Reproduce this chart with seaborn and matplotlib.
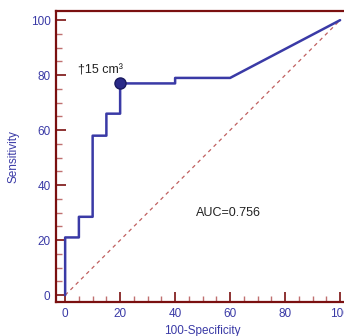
import matplotlib
matplotlib.use("Agg")
import matplotlib.pyplot as plt
from matplotlib.ticker import MultipleLocator
import seaborn as sns

# ROC curve (step points)
fpr = [0, 0, 5, 5, 10, 10, 15, 15, 20, 20, 40, 40, 60, 100]
tpr = [0, 21, 21, 28.5, 28.5, 58, 58, 66, 66, 77, 77, 79, 79, 100]
cut_x, cut_y = 20, 77
cut_label = "\u202015 cm\u00b3"
auc_text = "AUC=0.756"

sns.set_style("white")
plt.rcParams["font.family"] = ["Liberation Sans", "DejaVu Sans"]

blue = "#3a3aa6"
spine_red = "#7a1010"

fig = plt.figure(figsize=(3.44, 3.36), dpi=100)
ax = fig.add_axes([0.163, 0.101, 0.852, 0.866])

ax.plot([0, 100], [0, 100], color="#c06060", lw=0.9, ls=(0, (3, 3)))
sns.lineplot(x=fpr, y=tpr, sort=False, estimator=None, color=blue, lw=1.8, ax=ax)
ax.plot([cut_x], [cut_y], "o", ms=8, color="#2a2a88", mec="#1a1a60", zorder=5)

ax.text(cut_x - 15.5, cut_y + 2.5, cut_label, fontsize=9, color="#222222", va="bottom")
ax.text(47.5, 30, auc_text, fontsize=9, color="#222222", va="center")

ax.set_xlim(-3.3, 103.3)
ax.set_ylim(-2.5, 103.3)
ax.xaxis.set_major_locator(MultipleLocator(20))
ax.yaxis.set_major_locator(MultipleLocator(20))
ax.xaxis.set_minor_locator(MultipleLocator(5))
ax.yaxis.set_minor_locator(MultipleLocator(5))
ax.set_xticks([0, 20, 40, 60, 80, 100])
ax.set_xticklabels(["0", "20", "40", "60", "80", "100"])

ax.tick_params(which="major", direction="in", length=7, width=1.2, color=spine_red,
               labelcolor=blue, labelsize=8.5, pad=4)
ax.tick_params(which="minor", direction="in", length=4, width=1.0, color="#c07070")
ax.tick_params(axis="x", which="both", bottom=True)
ax.tick_params(axis="y", which="both", left=True)

for s in ax.spines.values():
    s.set_color(spine_red)
    s.set_linewidth(1.6)

ax.set_xlabel("100-Specificity", color=blue, fontsize=8.5, labelpad=4)
ax.set_ylabel("Sensitivity", color=blue, fontsize=8.5, labelpad=8)

fig.savefig("out.png", dpi=100)
